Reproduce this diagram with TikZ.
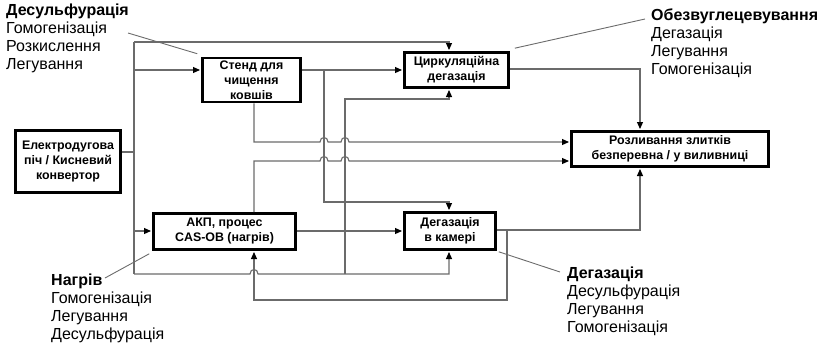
\documentclass[tikz,border=0pt]{standalone}
\usepackage{fontspec}
\setmainfont{Liberation Sans}
\usetikzlibrary{arrows.meta}

\begin{document}
\begin{tikzpicture}[x=1pt,y=-1pt,
    box/.style={draw, line width=2.6pt, align=center, inner sep=0pt,
      font=\bfseries\fontsize{12.4}{15}\selectfont},
    link/.style={draw=black!58, line width=1.1pt},
    arr/.style={link, -{Triangle[length=7pt,width=6pt,color=black]}, shorten >=1.2pt},
    note/.style={align=left, anchor=north west, inner sep=0pt,
      font=\fontsize{16}{18}\selectfont},
    pointer/.style={draw=black!58, line width=0.9pt}]
  \useasboundingbox (0,0) rectangle (826,348);

  % units of the shop
  \node[box, minimum width=105pt, minimum height=62pt] (eaf) at (68,161.5) {Електродугова\\піч / Кисневий\\конвертор};
  \node[box, minimum width=98pt, minimum height=44pt] (stend) at (251.5,80) {Стенд для\\чищення\\ковшів};
  \node[box, minimum width=104pt, minimum height=35pt] (circ) at (456.5,70) {Циркуляційна\\дегазація};
  \node[box, minimum width=142pt, minimum height=36pt] (akp) at (224.5,231.5) {АКП, процес\\CAS-OB (нагрів)};
  \node[box, minimum width=91pt, minimum height=37pt] (vac) at (450,231) {Дегазація\\в камері};
  \node[box, minimum width=197pt, minimum height=35pt] (cast) at (670,149) {Розливання злитків\\безперевна / у виливниці};

  % bus from the furnace
  \coordinate (bus top) at (134,42);
  \coordinate (bus foot) at (134,274);
  \draw[link] (eaf.east |- 0,152) -- (bus top |- 0,152);
  \draw[link] (bus top) -- (bus foot);
  \draw[arr] (bus top) -- (449,42) -- (circ.north -| 449,0);
  \draw[arr] (bus top |- 0,70) -- (stend.west |- 0,70);
  \draw[arr] (bus top |- 0,231) -- (akp.west |- 0,231);
  \draw[arr] (bus foot) -- (250,274) .. controls (250,268) and (258,268) .. (258,274)
    -- (449,274) -- (vac.south -| 449,0);
  \draw[arr] (345,274) -- (345,99) -- (449,99) -- (circ.south -| 449,0);

  % from the ladle stand
  \draw[arr] (stend.east |- 0,70) -- (circ.west |- 0,70);
  \draw[arr] (324,70) -- (324,202) -- (449,202) -- (vac.north -| 449,0);
  \draw[arr] (stend.south -| 254,0) -- (254,142) -- (320,142)
    .. controls (320,136) and (328,136) .. (328,142) -- (341,142)
    .. controls (341,136) and (349,136) .. (349,142) -- (cast.west |- 0,142);

  % from the ladle furnace
  \draw[arr] (akp.north -| 254,0) -- (254,161) -- (320,161)
    .. controls (320,155) and (328,155) .. (328,161) -- (341,161)
    .. controls (341,155) and (349,155) .. (349,161) -- (cast.west |- 0,161);
  \draw[arr] (akp.east |- 0,231) -- (vac.west |- 0,231);

  % to casting
  \draw[arr] (circ.east |- 0,69) -- (640,69) -- (cast.north -| 640,0);
  \draw[arr] (vac.east |- 0,230) -- (640,230) -- (cast.south -| 640,0);
  \draw[arr] (507,230) -- (507,300) -- (254,300) -- (akp.south -| 254,0);

  % treatments
  \node[note] (desulf) at (6,4) {\textbf{Десульфурація}\\Гомогенізація\\Розкислення\\Легування};
  \node[note] (decarb) at (651,9) {\textbf{Обезвуглецевування}\\Дегазація\\Легування\\Гомогенізація};
  \node[note] (heat) at (51,274) {\textbf{Нагрів}\\Гомогенізація\\Легування\\Десульфурація};
  \node[note] (degas) at (567,267) {\textbf{Дегазація}\\Десульфурація\\Легування\\Гомогенізація};
  \draw[pointer] (128,33) -- ([shift={(-4,-3)}]stend.north west);
  \draw[pointer] ([shift={(5,-3)}]circ.north east) -- (645,19);
  \draw[pointer] (105,278) -- ([shift={(-3,3)}]akp.south west);
  \draw[pointer] ([shift={(2,1)}]vac.south east) -- (560,272);
\end{tikzpicture}
\end{document}
